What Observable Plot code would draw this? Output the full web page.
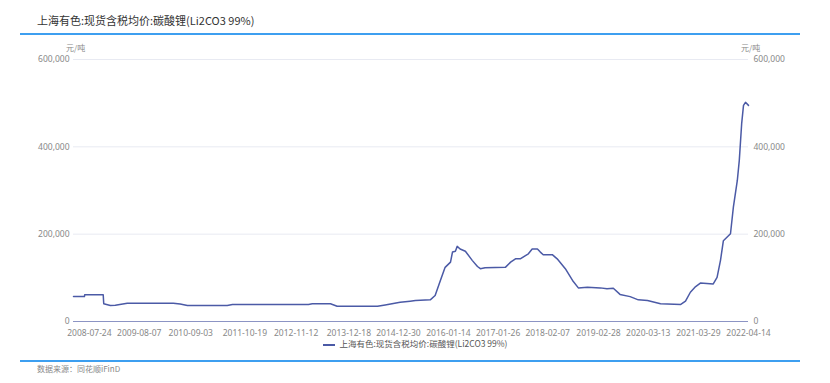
<!DOCTYPE html>
<html>
<head>
<meta charset="utf-8">
<script src="https://cdn.jsdelivr.net/npm/d3@7"></script>
<script src="https://cdn.jsdelivr.net/npm/@observablehq/plot@0.6"></script>
<style>
  html, body { margin: 0; padding: 0; background: #fff; }
  body { width: 830px; height: 383px; position: relative; overflow: hidden; font-family: "Noto Sans CJK SC", "Noto Sans", sans-serif; }
  .title { position: absolute; left: 37px; top: 12px; font-size: 11px; color: #333; }
  .topline { position: absolute; left: 20px; top: 33px; width: 780px; height: 1.5px; background: #3d9ff0; }
  .botline { position: absolute; left: 20px; top: 360px; width: 780px; height: 1.5px; background: #3d9ff0; }
  .unit { position: absolute; top: 42px; font-size: 8px; color: #888; }
  .source { position: absolute; left: 37px; top: 363px; font-size: 8px; color: #888; }
  .legend { position: absolute; top: 337px; left: 0; width: 830px; text-align: center; font-size: 8.5px; color: #555; }
  .legend .sw { display: inline-block; width: 12px; height: 2px; background: #4b5aa6; vertical-align: middle; margin-right: 5px; margin-left: 0px; }
  #chart { position: absolute; left: 0; top: 36px; }
</style>
</head>
<body>
<div class="title">上海有色:现货含税均价:碳酸锂(Li2CO3 99%)</div>
<div class="topline"></div>
<div class="unit" style="left:66px;">元/吨</div>
<div class="unit" style="left:741px;">元/吨</div>
<div id="chart"></div>
<div class="legend"><span class="sw"></span>上海有色:现货含税均价:碳酸锂(Li2CO3 99%)</div>
<div class="botline"></div>
<div class="source">数据来源：同花顺iFinD</div>
<script>
const seriesName = "上海有色:现货含税均价:碳酸锂(Li2CO3 99%)";
const dates = [
  "2008-03-25","2008-06-16","2008-06-18","2008-11-06","2008-11-10","2008-12-30","2009-02-06","2009-05-08",
  "2010-04-23","2010-06-14","2010-08-08","2011-06-07","2011-07-17","2013-02-14","2013-03-15","2013-07-31",
  "2013-09-20","2014-07-24","2014-09-20","2015-01-12","2015-03-29","2015-05-08","2015-08-29","2015-10-05",
  "2015-11-14","2015-12-20","2016-01-30","2016-02-14","2016-03-07","2016-03-21","2016-04-12","2016-05-22",
  "2016-07-13","2016-08-22","2016-09-13","2016-10-19","2017-03-22","2017-05-01","2017-06-07","2017-07-13",
  "2017-08-22","2017-09-13","2017-10-12","2017-11-21","2017-12-13","2018-01-04","2018-03-14","2018-04-20",
  "2018-06-21","2018-08-15","2018-09-28","2018-12-06","2019-03-14","2019-05-04","2019-06-21","2019-08-11",
  "2019-10-27","2019-12-28","2020-03-07","2020-06-14","2020-11-15","2020-12-21","2021-01-27","2021-03-08",
  "2021-04-13","2021-07-20","2021-08-18","2021-09-13","2021-10-05","2021-11-28","2021-12-20","2022-01-19",
  "2022-02-03","2022-02-21","2022-03-07","2022-03-22","2022-04-14"
];
const values = [
  57000,57000,61000,61000,40500,36600,37000,42000,
  42000,40000,36600,36600,39000,39000,40500,40500,
  35000,35000,38000,44000,46500,48000,49600,59500,
  94000,124000,136000,159000,161000,172000,166000,161000,
  140000,126000,121000,123000,124000,136000,143500,143500,
  151000,155000,166000,166000,159000,153000,153000,143500,
  121000,94000,77000,78500,77000,75000,76000,62000,
  57000,49600,48000,40500,39000,46500,67000,80000,
  88000,86000,101000,140000,185000,201000,262000,323000,
  369000,453000,495000,502000,495000
];
const xTickLabels = ["2008-07-24","2009-08-07","2010-09-03","2011-10-19","2012-11-12","2013-12-18","2014-12-30",
  "2016-01-14","2017-01-26","2018-02-07","2019-02-28","2020-03-13","2021-03-29","2022-04-14"];
const yTicks = [0, 200000, 400000, 600000];

const parse = d3.utcParse("%Y-%m-%d");
const data = dates.map((d, i) => ({date: parse(d), value: values[i]}));
const xTicks = xTickLabels.map(parse);
const fmtDate = d3.utcFormat("%Y-%m-%d");
const fmtNum = d3.format(",");

const chart = Plot.plot({
  width: 830,
  height: 305,
  marginLeft: 73,
  marginRight: 82,
  marginTop: 23,
  marginBottom: 20,
  style: {fontFamily: "'Noto Sans', 'Noto Sans CJK SC', sans-serif", fontSize: "8.5px", color: "#888", background: "transparent"},
  x: {type: "utc", domain: [parse("2008-03-25"), parse("2022-04-14")]},
  y: {domain: [0, 600000]},
  marks: [
    Plot.gridY(yTicks, {stroke: "#e8eaf2", strokeOpacity: 1}),
    Plot.axisY(yTicks, {anchor: "left", tickSize: 0, tickPadding: 4, tickFormat: fmtNum, label: null, fill: "#888"}),
    Plot.axisY(yTicks, {anchor: "right", tickSize: 0, tickPadding: 5, tickFormat: fmtNum, label: null, fill: "#888"}),
    Plot.axisX(xTicks, {tickSize: 0, tickPadding: 8, tickFormat: fmtDate, label: null, fill: "#888"}),
    Plot.ruleY([0], {stroke: "#8c94c4", strokeWidth: 1.2}),
    Plot.lineY(data, {x: "date", y: "value", stroke: "#4b5aa6", strokeWidth: 1.5, title: () => seriesName})
  ]
});
document.getElementById("chart").appendChild(chart);
</script>
</body>
</html>
